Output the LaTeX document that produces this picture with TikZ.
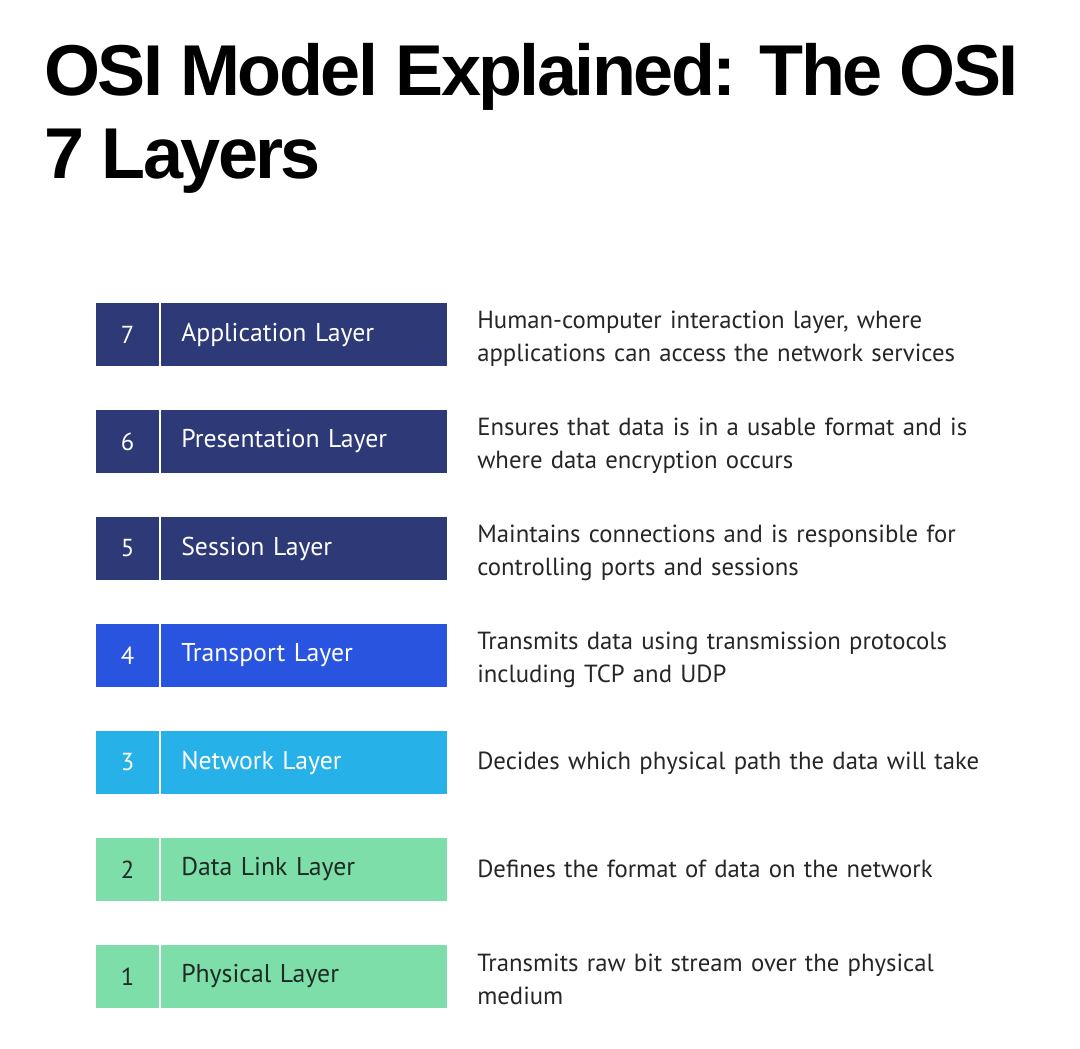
\documentclass[tikz,border=0pt]{standalone}
\usepackage{fontspec}
\setmainfont{PT Sans}
\newfontfamily\titlefont{Liberation Sans}[LetterSpace=-3.6]
\usepackage{tikz}
\usetikzlibrary{positioning}

\definecolor{navy}{HTML}{2E3978}
\definecolor{tblue}{HTML}{2954E0}
\definecolor{nblue}{HTML}{26B2E8}
\definecolor{mint}{HTML}{7DDEAA}
\definecolor{ink}{HTML}{1E2A24}

\begin{document}
\begin{tikzpicture}[x=0.025cm, y=-0.025cm,
    numcell/.style={minimum width=1.575cm, minimum height=1.575cm, inner sep=0pt,
        font=\fontsize{17.5}{20}\selectfont},
    laycell/.style={anchor=west, minimum height=1.575cm, inner xsep=0.5cm, inner ysep=0pt,
        text width=6.15cm, align=left, font=\fontsize{18.3}{21}\selectfont},
    desc/.style={anchor=west, inner sep=0pt, text width=14cm, align=left,
        text=black!85, font=\fontsize{17.6}{23.3}\selectfont}]
        % 背景与边界
        \useasboundingbox (0,0) rectangle (1080,1048);
        \fill[white] (0,0) rectangle (1080,1048);
        % 标题
        \node[anchor=base west, inner sep=0pt, align=left,
            font=\titlefont\bfseries\fontsize{51.2}{59}\selectfont] (title) at (44,178)
            {OSI Model Explained: The OSI\\7 Layers};

        % 第7层
        \node[numcell, fill=navy, text=white] (n7) at (127.5,334.5) {7};
        \node[laycell, fill=navy, text=white] (l7) at (161,334.5) {Application Layer};
        \node[desc] (d7) at (477,339) {Human-computer interaction layer, where\\applications can access the network services};
        % 第6层
        \node[numcell, fill=navy, text=white] (n6) at (127.5,441.5) {6};
        \node[laycell, fill=navy, text=white] (l6) at (161,441.5) {Presentation Layer};
        \node[desc] (d6) at (477,446) {Ensures that data is in a usable format and is\\where data encryption occurs};
        % 第5层
        \node[numcell, fill=navy, text=white] (n5) at (127.5,548.5) {5};
        \node[laycell, fill=navy, text=white] (l5) at (161,548.5) {Session Layer};
        \node[desc] (d5) at (477,553) {Maintains connections and is responsible for\\controlling ports and sessions};
        % 第4层
        \node[numcell, fill=tblue, text=white] (n4) at (127.5,655.5) {4};
        \node[laycell, fill=tblue, text=white] (l4) at (161,655.5) {Transport Layer};
        \node[desc] (d4) at (477,660) {Transmits data using transmission protocols\\including TCP and UDP};
        % 第3层
        \node[numcell, fill=nblue, text=white] (n3) at (127.5,762.5) {3};
        \node[laycell, fill=nblue, text=white] (l3) at (161,762.5) {Network Layer};
        \node[desc] (d3) at (477,763) {Decides which physical path the data will take};
        % 第2层
        \node[numcell, fill=mint, text=ink] (n2) at (127.5,869.5) {2};
        \node[laycell, fill=mint, text=ink] (l2) at (161,869.5) {Data Link Layer};
        \node[desc] (d2) at (477,869) {Defines the format of data on the network};
        % 第1层
        \node[numcell, fill=mint, text=ink] (n1) at (127.5,976.5) {1};
        \node[laycell, fill=mint, text=ink] (l1) at (161,976.5) {Physical Layer};
        \node[desc] (d1) at (477,979) {Transmits raw bit stream over the physical\\medium};

    \end{tikzpicture}
\end{document}
